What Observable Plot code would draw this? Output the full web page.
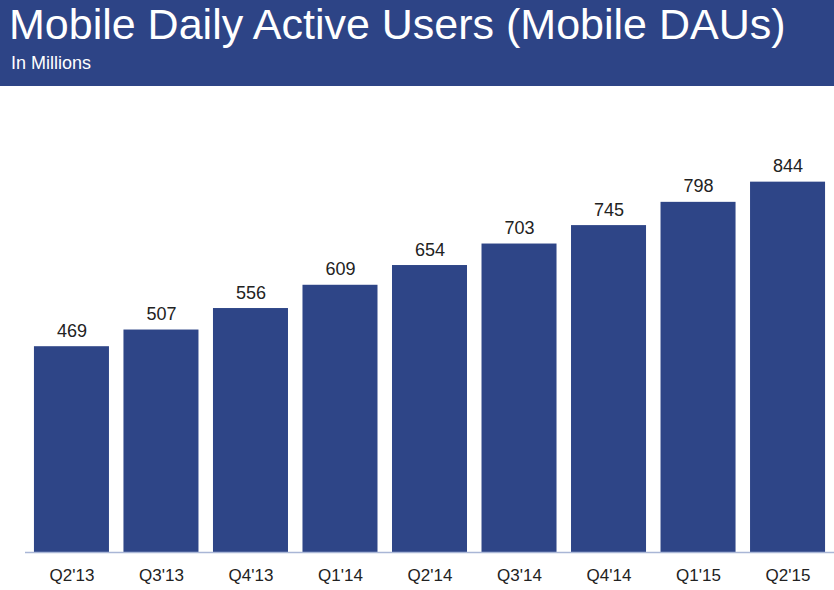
<!DOCTYPE html>
<html>
<head>
<meta charset="utf-8">
<script src="https://cdn.jsdelivr.net/npm/d3@7"></script>
<script src="https://cdn.jsdelivr.net/npm/@observablehq/plot@0.6"></script>
<style>
  html, body { margin: 0; padding: 0; background: #fff; }
  body { width: 834px; height: 590px; overflow: hidden; font-family: "Liberation Sans", Arial, sans-serif; }
  #header { position: relative; width: 834px; height: 86px; background: #2d4486; color: #fff; }
  #title { position: absolute; left: 9px; top: 3px; font-size: 43px; line-height: 1; white-space: nowrap; }
  #subtitle { position: absolute; left: 11px; top: 54px; font-size: 18px; line-height: 1; white-space: nowrap; }
  #chart svg { display: block; }
</style>
</head>
<body>
<div id="header">
  <div id="title">Mobile Daily Active Users (Mobile DAUs)</div>
  <div id="subtitle">In Millions</div>
</div>
<div id="chart"></div>
<script>
const quarters = ["Q2'13", "Q3'13", "Q4'13", "Q1'14", "Q2'14", "Q3'14", "Q4'14", "Q1'15", "Q2'15"];
const dau = [469, 507, 556, 609, 654, 703, 745, 798, 844];

const data = quarters.map((q, i) => ({quarter: q, value: dau[i]}));

const chart = Plot.plot({
  width: 834,
  height: 504,
  marginLeft: 25,
  marginRight: 0,
  marginTop: 0,
  marginBottom: 38,
  style: {fontFamily: "Liberation Sans, Arial, sans-serif", background: "#fff", color: "#222"},
  x: {domain: quarters, paddingInner: 0.162, paddingOuter: 0.1, round: false, label: null},
  y: {domain: [0, 1062], axis: null},
  marks: [
    Plot.barY(data, {x: "quarter", y: "value", fill: "#2e4587"}),
    Plot.ruleY([0], {stroke: "#a9b6d6", strokeWidth: 1.5}),
    Plot.text(data, {x: "quarter", y: "value", text: d => String(d.value), lineAnchor: "bottom", dy: -10, fontSize: 18, fill: "#222"}),
    Plot.axisX({tickSize: 0, tickPadding: 16, fontSize: 17, label: null, color: "#222"})
  ]
});
document.getElementById("chart").append(chart);
</script>
</body>
</html>
